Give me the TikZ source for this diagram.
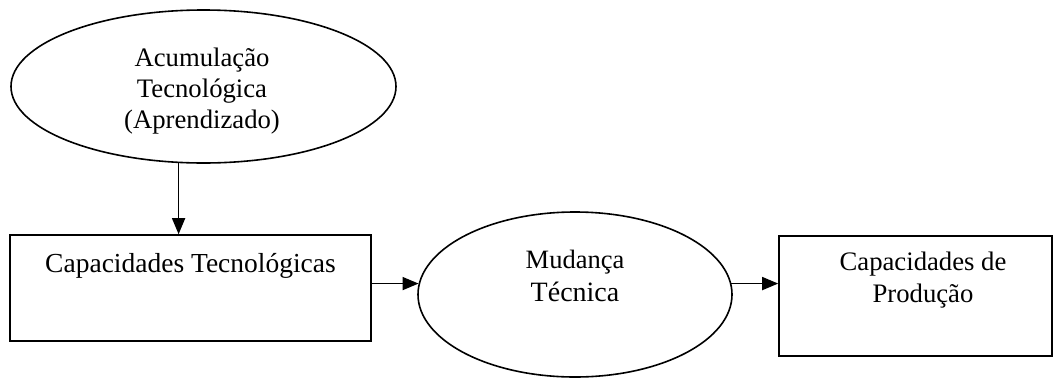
\documentclass[tikz,border=0pt]{standalone}
\usepackage{fontspec}
\setmainfont{Liberation Serif}
\usetikzlibrary{shapes.geometric,arrows.meta}
\begin{document}
\begin{tikzpicture}[x=1pt,y=-1pt,
  shp/.style={draw, line width=1.6pt, inner sep=0pt},
  ell/.style={shp, ellipse},
  box/.style={shp, rectangle},
  txt/.style={anchor=north, align=center, inner sep=0pt},
  arr/.style={line width=1.6pt, -{Triangle[length=16pt,width=13pt]}}]
\useasboundingbox (0,0) rectangle (1057,378);
% shapes
\node[ell, minimum width=385pt, minimum height=153pt] (acc) at (203.5,86.5) {};
\node[box, minimum width=361pt, minimum height=106pt] (capT) at (190.5,288) {};
\node[ell, minimum width=314pt, minimum height=165pt] (mud) at (575,294.5) {};
\node[box, minimum width=273pt, minimum height=120pt] (prod) at (915.5,296) {};
% texts
\node[txt, font=\fontsize{26.7}{31}\selectfont] (tacc) at (202,47.5) {Acumulação\\Tecnológica\\(Aprendizado)};
\node[txt, font=\fontsize{27.5}{31}\selectfont] (tcap) at (190.5,253.5) {Capacidades Tecnológicas};
\node[txt, font=\fontsize{26.5}{33}\selectfont] (tmud) at (575,250) {Mudança\\{\fontsize{28}{33}\selectfont Técnica}};
\node[txt, font=\fontsize{26.7}{32}\selectfont] (tprod) at (923,252) {Capacidades de\\Produção};
% connectors
\draw[arr] (acc.252.6) -- (acc.252.6 |- capT.north);
\draw[arr] (capT.east |- mud.176) -- (mud.176);
\draw[arr] (mud.4) -- (prod.west |- mud.4);
\end{tikzpicture}
\end{document}
